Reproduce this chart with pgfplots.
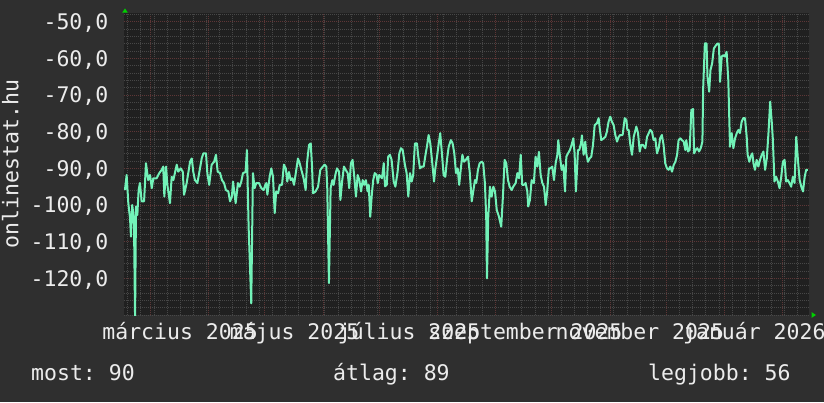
\documentclass[border=0pt]{standalone}
\usepackage{pgfplots}
\pgfplotsset{compat=1.18}
\usepackage{fontspec}
\setmainfont{DejaVu Sans Mono}
\frenchspacing
\definecolor{bg}{HTML}{2F2F2F}
\definecolor{canvas}{HTML}{202020}
\definecolor{mgrid}{HTML}{474747}
\definecolor{Mgrid}{HTML}{5E3636}
\definecolor{sig}{HTML}{72F2B8}
\definecolor{txt}{HTML}{ECECEC}
\definecolor{arr}{HTML}{00D000}
\newcommand{\bigfont}{\fontsize{21.5}{21.5}\selectfont}
\begin{document}
\begin{tikzpicture}[x=1pt,y=1pt]
\useasboundingbox (0,0) rectangle (824,402);
\fill[bg] (0,0) rectangle (824,402);
\begin{axis}[
  at={(124pt,87pt)}, anchor=south west,
  scale only axis, width=685pt, height=301.7pt,
  xmin=0, xmax=365, ymin=-130, ymax=-47.7,
  axis background/.style={fill=canvas},
  axis line style={draw=none},
  major tick length=0pt, minor tick length=0pt,
  xtick={14,45,75,106,136,167,198,228,259,289,320,351},
  xticklabels={},
  minor xtick={2,9,...,359},
  extra x ticks={28,89,150,212,273,334},
  extra x tick labels={március 2025,május 2025,július 2025,szeptember 2025,november 2025,január 2026},
  extra x tick style={grid=none, major tick length=0pt, xticklabel style={anchor=base, inner sep=0pt, yshift=-24.3pt, xshift=3.5pt}},
  ytick={-120,-110,...,-50},
  yticklabels={{-120,0},{-110,0},{-100,0},{-90,0},{-80,0},{-70,0},{-60,0},{-50,0}},
  minor ytick={-130,-128,...,-48},
  grid=both,
  major grid style={Mgrid, line width=0.8pt, dash pattern=on 1pt off 1pt},
  minor grid style={mgrid, line width=0.8pt, dash pattern=on 1pt off 1pt},
  tick label style={font=\bigfont, text=txt},
  yticklabel style={anchor=base east, inner sep=0pt, xshift=-15.5pt, yshift=-7.8pt},
]
\addplot[sig, line width=2pt, line join=round, mark=none] coordinates {
(0.5,-95.9)(1.4,-91.8)(2.3,-99.5)(3.2,-103.5)(3.7,-108.6)(4.4,-100)(5.3,-104)(5.9,-131)(6.4,-100.4)(7.1,-102.7)(7.8,-95.9)(8.5,-94)(9.4,-99)(10.7,-99)(11.7,-88.6)(12.9,-93.2)(13.9,-91.8)(14.8,-95.4)(15.6,-92.7)(17.4,-92.7)(18.8,-91.3)(20.1,-90.4)(20.9,-89.5)(21.5,-97.7)(22.4,-89.5)(23.1,-94.5)(24.5,-99.5)(25.4,-92.3)(26.3,-93.2)(28.1,-89)(28.9,-90.9)(30.2,-90)(31.3,-90.9)(32.0,-97.2)(33.4,-94)(35.2,-88.2)(36.1,-87.3)(36.9,-90.9)(37.8,-93.2)(39.1,-94)(40.5,-90)(41.4,-87.3)(42.3,-85.9)(43.7,-85.9)(44.4,-91.3)(45.4,-94.5)(46.7,-89)(48.0,-88.2)(49.0,-86.3)(49.9,-90.9)(51.2,-91.3)(52.2,-93.2)(53.3,-94)(54.3,-95.9)(55.6,-96.3)(56.5,-99)(57.5,-97.7)(58.1,-93.6)(59.5,-99.5)(60.7,-94)(61.6,-95)(62.5,-93.6)(63.4,-91.3)(64.8,-91)(65.5,-85)(66.4,-105.9)(67.8,-126.8)(68.7,-91.3)(69.6,-95.4)(70.5,-94)(71.9,-94)(73.2,-95.4)(74.4,-95.9)(75.3,-94.5)(75.8,-94)(76.4,-97.2)(77.6,-92.3)(78.5,-90)(79.4,-92.3)(80.3,-102.2)(81.1,-96.3)(82.1,-96.8)(83.0,-94.5)(84.2,-94.5)(85.2,-89)(86.2,-90)(87.0,-93.6)(87.9,-91)(88.8,-93.2)(89.7,-92.7)(90.6,-94.5)(91.8,-90.4)(92.7,-87.3)(93.6,-88.6)(94.5,-90.4)(95.7,-92.7)(96.8,-95.9)(97.5,-88.6)(98.6,-83.6)(99.5,-83.2)(100.2,-89.5)(100.7,-96.8)(102.1,-96.3)(103.4,-95)(104.6,-90.4)(106.0,-89.5)(106.9,-89)(107.8,-89.5)(108.3,-95.4)(109.2,-121.3)(110.1,-95.4)(111.0,-93.2)(111.7,-94.5)(112.6,-91.8)(113.5,-90)(114.6,-90.9)(115.3,-98.6)(116.3,-93.2)(117.2,-89.5)(118.1,-90.4)(119.2,-91.3)(120.0,-95.4)(120.9,-88.6)(121.8,-87.7)(122.7,-92.3)(123.6,-97.7)(124.5,-91.8)(125.4,-93.2)(126.3,-96.3)(127.2,-93.2)(128.0,-94.5)(128.9,-93.2)(129.8,-96.3)(130.4,-94.5)(131.2,-103.2)(132.1,-96.8)(132.8,-93.2)(133.6,-91.3)(134.6,-91.8)(135.2,-94)(136.0,-91.8)(137.5,-92.7)(138.4,-88.6)(139.1,-94.9)(140.0,-94.5)(140.8,-86.8)(141.7,-86.3)(142.6,-87.7)(143.7,-93.6)(144.6,-95)(145.8,-90.9)(146.7,-85.9)(147.6,-84.5)(148.5,-85)(149.7,-89.1)(150.6,-91.3)(151.5,-97.7)(152.4,-91.3)(153.3,-93.6)(154.1,-91.8)(155.0,-83.2)(156.1,-83.2)(156.8,-86.8)(157.7,-90)(158.8,-89.5)(159.7,-89.5)(160.5,-86.8)(161.4,-84.1)(162.3,-80.9)(163.2,-83.2)(164.1,-87.7)(165.2,-93.6)(165.9,-90)(166.8,-86.8)(167.7,-83.2)(168.5,-80.4)(169.4,-85.9)(170.3,-91.8)(171.2,-92.3)(172.1,-87.7)(173.0,-84.1)(174.2,-82.3)(175.1,-83.2)(176.0,-85.9)(176.9,-91.3)(177.8,-90)(178.6,-94.5)(179.4,-90.4)(180.3,-86.3)(181.2,-88.2)(182.1,-87.7)(183.3,-86.8)(184.2,-90.9)(185.3,-99)(186.2,-95.9)(187.0,-93.2)(187.7,-94)(188.6,-90.4)(189.5,-88.6)(190.6,-88.2)(191.4,-88.6)(192.3,-94)(193.0,-103.2)(193.4,-120)(194.1,-103)(195.0,-95)(195.9,-97.7)(196.8,-95)(197.7,-96.3)(198.6,-101.3)(199.8,-103.2)(201.0,-105.9)(201.9,-97.7)(202.8,-87.7)(203.7,-88.6)(204.6,-93.2)(205.5,-95)(206.6,-95.9)(207.4,-95)(208.7,-94)(209.6,-91.3)(210.5,-92.7)(211.4,-86.3)(212.2,-94.5)(213.1,-94.5)(214.0,-94)(214.9,-96.3)(215.4,-100.4)(216.3,-98.6)(217.2,-93.2)(218.4,-94)(219.3,-86.8)(220.2,-89.5)(221.1,-85.5)(222.0,-91.8)(222.9,-94)(223.8,-95)(224.7,-100)(225.5,-96.3)(226.4,-90)(227.3,-90)(228.2,-89.5)(229.1,-93.2)(230.0,-88.6)(230.9,-86.3)(231.4,-82.3)(232.3,-86.8)(233.2,-90.4)(234.1,-89.1)(235.0,-96.3)(235.7,-86.8)(236.6,-85.9)(237.6,-85)(238.5,-83.6)(239.4,-81.8)(240.1,-85.9)(240.8,-96.3)(241.9,-85)(242.6,-85)(243.5,-83.2)(244.0,-81)(244.9,-86.3)(245.8,-82.7)(246.3,-85.9)(247.2,-88.2)(248.1,-87.3)(249.0,-86.8)(249.9,-83.6)(250.8,-78.2)(252.0,-77.7)(252.9,-76.3)(253.5,-79.1)(254.3,-82.3)(255.6,-81.8)(256.5,-81.4)(257.3,-80)(258.2,-77.3)(259.1,-75.9)(260.0,-77.3)(260.9,-78.2)(261.8,-80.9)(262.7,-82.7)(263.6,-81.4)(264.4,-80.9)(265.7,-80.9)(266.8,-76.3)(267.7,-76.8)(268.2,-79.5)(268.9,-79.5)(269.8,-83.6)(270.7,-86.3)(271.6,-81.4)(272.1,-80.4)(273.0,-78.6)(273.9,-80.4)(274.8,-85.4)(275.6,-83.6)(276.5,-83.6)(277.8,-84.5)(278.7,-81.4)(279.6,-80.4)(280.4,-79.5)(281.3,-80)(282.2,-82.3)(283.1,-81.8)(284.0,-85.9)(284.9,-84.5)(285.7,-81.8)(286.6,-80.9)(287.5,-83.6)(288.4,-88.6)(289.3,-90)(290.2,-90.4)(291.1,-89.5)(292.0,-90.9)(292.9,-89.1)(293.8,-88.2)(294.7,-86.3)(295.5,-82.3)(296.4,-81.8)(297.3,-82.3)(298.2,-82.7)(299.1,-85)(299.6,-82.3)(300.5,-85.4)(301.4,-85)(302.3,-74.1)(303.2,-73.8)(303.8,-85.9)(304.6,-85)(305.5,-84.5)(306.4,-85.4)(307.3,-84.5)(308.2,-82.7)(308.6,-68.2)(309.5,-55.9)(310.4,-55.9)(310.9,-65)(311.8,-69.1)(312.5,-63.2)(313.4,-61.3)(314.3,-57.3)(315.2,-56.6)(316.1,-56)(317.0,-56)(317.6,-66.4)(318.5,-59.5)(319.4,-59.1)(320.2,-59.5)(321.1,-58.2)(322.0,-66)(322.9,-84.1)(323.8,-80.4)(324.7,-84.5)(325.6,-81.8)(326.5,-80.4)(327.4,-79.5)(328.2,-80.4)(329.1,-77.3)(330.0,-76.3)(330.9,-76.3)(331.8,-81.4)(332.3,-86.3)(333.2,-88.2)(333.9,-86.8)(334.8,-85.9)(335.4,-88.6)(336.2,-90.4)(337.1,-87.7)(338.0,-89.5)(338.9,-87.7)(339.8,-86.3)(340.7,-85.4)(341.6,-90.4)(342.5,-87.3)(343.4,-80.4)(344.3,-71.8)(345.2,-77.7)(345.7,-81.8)(346.6,-93.6)(347.5,-92.3)(348.4,-93.6)(349.3,-95.4)(350.2,-92.3)(351.1,-88.2)(352.0,-87.7)(352.8,-93.6)(353.7,-93.2)(354.6,-94)(355.5,-95)(356.4,-92.3)(357.3,-94)(358.2,-81.4)(359.1,-87.7)(360.0,-93.2)(360.9,-95)(361.8,-96.3)(362.7,-92.3)(363.5,-90.4)(364.4,-90.4)
};
\end{axis}
\fill[arr] (122.2,389.3) -- (127.8,389.3) -- (125,393.5) -- cycle;
\fill[arr] (811.7,84.2) -- (811.7,89.8) -- (816,87) -- cycle;
\node[rotate=90, anchor=base, inner sep=0pt, text=txt, font=\bigfont] at (18.3,238) {onlinestat.hu};
\node[anchor=base west, inner sep=0pt, text=txt, font=\bigfont] at (31,22) {most: 90};
\node[anchor=base west, inner sep=0pt, text=txt, font=\bigfont] at (333,22) {átlag: 89};
\node[anchor=base west, inner sep=0pt, text=txt, font=\bigfont] at (648,22) {legjobb: 56};
\end{tikzpicture}
\end{document}
